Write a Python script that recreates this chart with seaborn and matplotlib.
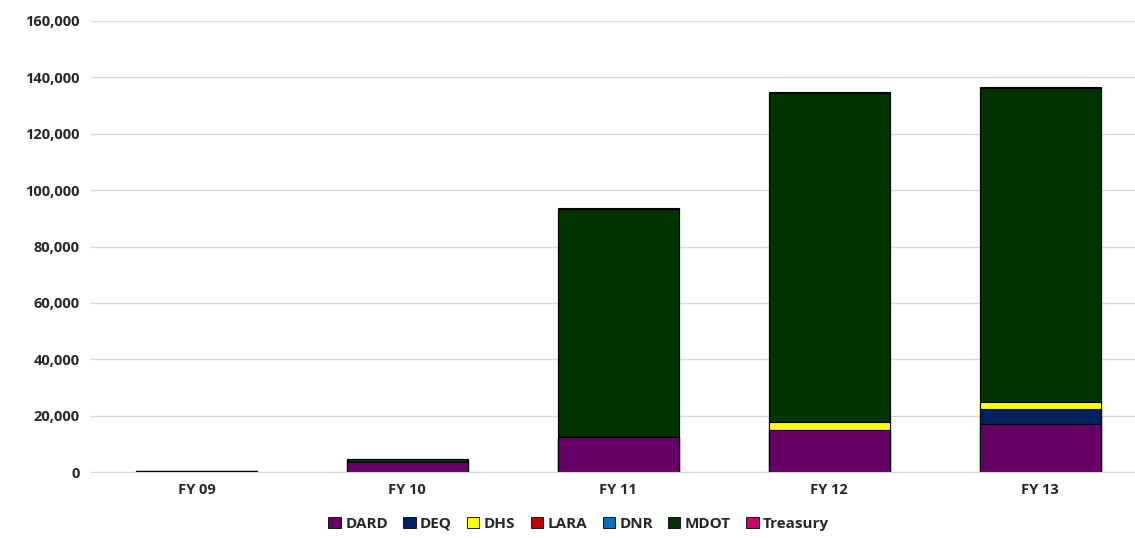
import matplotlib
matplotlib.use("Agg")
import matplotlib.pyplot as plt
import matplotlib.ticker as mticker
from matplotlib.patches import Patch
import seaborn as sns
import pandas as pd

years = ["FY 09", "FY 10", "FY 11", "FY 12", "FY 13"]
agencies = ["DARD", "DEQ", "DHS", "LARA", "DNR", "MDOT", "Treasury"]
colors = ["#660066", "#002060", "#FFFF00", "#C00000", "#0070C0", "#003300", "#CC0066"]

dard = [300, 3500, 12300, 14800, 16900]
deq = [0, 0, 0, 0, 5400]
dhs = [0, 0, 0, 2800, 2600]
lara = [0, 0, 0, 0, 0]
dnr = [0, 0, 0, 0, 0]
mdot = [200, 1100, 81000, 116800, 111200]
treasury = [0, 0, 300, 400, 600]

series = [dard, deq, dhs, lara, dnr, mdot, treasury]

sns.set_style("white")
plt.rcParams["font.family"] = ["Open Sans", "DejaVu Sans"]

df = pd.DataFrame({a: v for a, v in zip(agencies, series)}, index=years)
cum = df.cumsum(axis=1)

fig = plt.figure(figsize=(11.35, 5.38), dpi=100)
ax = fig.add_axes([91 / 1135, 66 / 538, (1135 - 91) / 1135, 451 / 538])

# draw cumulative totals from the top layer down so each layer sits on the one below
for agency, color in reversed(list(zip(agencies, colors))):
    if df[agency].sum() == 0:
        continue
    sns.barplot(x=years, y=cum[agency].values, color=color, width=0.573,
                edgecolor="black", linewidth=0.8, saturation=1, ax=ax, zorder=2)

ax.set_ylim(0, 160000)
ax.set_xlim(-0.5, 4.45)
ax.set_yticks(range(0, 160001, 20000))
ax.yaxis.set_major_formatter(mticker.FuncFormatter(lambda v, p: f"{int(v):,}"))
ax.grid(axis="y", color="#d9d9d9", linewidth=1, zorder=0)
ax.set_axisbelow(True)
for s in ["top", "right", "left"]:
    ax.spines[s].set_visible(False)
ax.spines["bottom"].set_color("#d9d9d9")
ax.tick_params(axis="both", length=0, labelsize=10.5, pad=8)
for lbl in ax.get_xticklabels() + ax.get_yticklabels():
    lbl.set_fontweight("bold")
ax.set_xlabel("")
ax.set_ylabel("")

handles = [Patch(facecolor=c, edgecolor="black", linewidth=0.6) for c in colors]
fig.legend(handles, agencies, loc="lower center", bbox_to_anchor=(0.51, -0.012),
           ncol=7, frameon=False, handlelength=0.8, handleheight=0.8,
           handletextpad=0.3, columnspacing=1.0,
           prop={"weight": "bold", "size": 11})

fig.savefig("out.png", dpi=100)
